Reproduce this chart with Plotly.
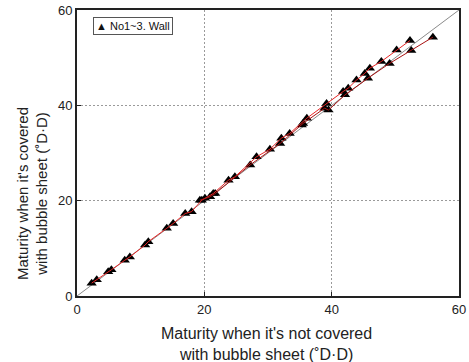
import plotly.graph_objects as go

# Maturity (°D·D): not covered (x) vs covered with bubble sheet (y)
upper_x = [2.3, 3.1, 4.9, 5.4, 7.5, 8.3, 10.7, 11.2, 14.1, 15.1, 17.0, 18.0, 19.6, 20.1, 21.4,
           23.8, 24.8, 28.2, 30.3, 32.1, 33.4, 36.1, 39.2, 41.8, 42.6, 43.9, 45.2, 46.0, 47.8,
           50.2, 52.3]
upper_y = [2.7, 3.4, 5.1, 5.5, 7.5, 8.2, 10.7, 11.4, 14.2, 15.2, 17.3, 17.7, 20.1, 20.5, 21.5,
           24.3, 25.0, 29.2, 30.8, 33.1, 34.1, 37.3, 40.4, 42.9, 43.6, 45.3, 46.7, 47.8, 49.2,
           51.6, 53.6]

lower_x = [19.3, 20.9, 21.7, 27.2, 31.9, 35.3, 35.5, 38.9, 39.5, 42.1, 45.7, 49.1, 52.5, 55.9]
lower_y = [20.1, 20.8, 21.5, 27.5, 32.0, 35.9, 36.2, 39.4, 39.0, 42.2, 45.7, 48.8, 51.5, 54.3]

axis_range = [0, 60]
tick_vals = [0, 20, 40, 60]

series_name = "No1~3. Wall"
x_title = "Maturity when it's not covered<br>with bubble sheet (˚D·D)"
y_title = "Maturity when it's covered<br>with bubble sheet (˚D·D)"

fig = go.Figure()

# 1:1 reference line
fig.add_trace(go.Scatter(x=axis_range, y=axis_range, mode="lines",
                         line=dict(color="#8a8a8a", width=1), showlegend=False,
                         hoverinfo="skip"))

marker_style = dict(symbol="triangle-up", size=9, color="black")

fig.add_trace(go.Scatter(x=upper_x, y=upper_y, mode="markers", marker=marker_style,
                         name=series_name, showlegend=False))
fig.add_trace(go.Scatter(x=lower_x, y=lower_y, mode="markers", marker=marker_style,
                         name=series_name, showlegend=False))

# Red connecting lines drawn over the markers
fig.add_trace(go.Scatter(x=upper_x, y=upper_y, mode="lines",
                         line=dict(color="#e82525", width=1), showlegend=False))
fig.add_trace(go.Scatter(x=lower_x, y=lower_y, mode="lines",
                         line=dict(color="#a81010", width=1), showlegend=False))

axis_common = dict(
    range=axis_range, tickvals=tick_vals, showgrid=True,
    gridcolor="#9a9a9a", griddash="2px,2px", gridwidth=1,
    showline=True, linecolor="#222222", linewidth=2, mirror=True,
    ticks="inside", ticklen=4, tickcolor="#222222", automargin=False,
    zeroline=False, tickfont=dict(family="Liberation Sans, Arial", size=13, color="#222222"),
)

fig.update_layout(
    width=469, height=362,
    margin=dict(l=77, r=10, t=10, b=66),
    plot_bgcolor="white", paper_bgcolor="white",
    font=dict(family="Liberation Sans, Arial", color="#222222"),
    xaxis=axis_common,
    yaxis=axis_common,
    showlegend=False,
    annotations=[
        # legend box
        dict(text="▲ " + series_name, xref="paper", yref="paper", x=0.042, y=0.975,
             xanchor="left", yanchor="top", showarrow=False,
             font=dict(size=11, color="#111111"),
             bordercolor="#555555", borderwidth=1, borderpad=2, bgcolor="white"),
        # axis titles
        dict(text=x_title, xref="paper", yref="paper", x=0.497, y=-0.168,
             xanchor="center", yanchor="middle", showarrow=False,
             font=dict(size=16, color="#222222")),
        dict(text=y_title, xref="paper", yref="paper", x=-0.118, y=0.36,
             xanchor="center", yanchor="middle", textangle=-90, showarrow=False,
             font=dict(size=15, color="#222222")),
    ],
)

fig.write_html("out.html")
